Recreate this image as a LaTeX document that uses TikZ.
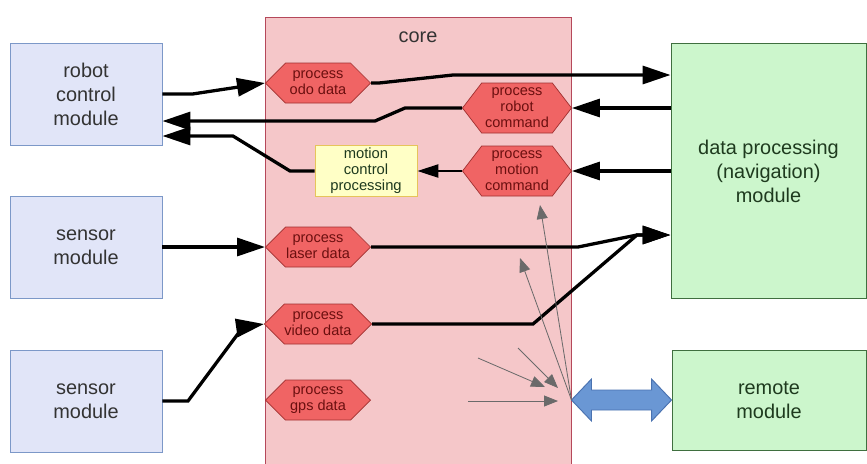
\documentclass[tikz,border=0pt]{standalone}
\usepackage{fontspec}
\setmainfont{Liberation Sans}
\usetikzlibrary{arrows.meta,shapes.symbols,calc}

\definecolor{corefill}{HTML}{F5C7C9}
\definecolor{coreline}{HTML}{B5485A}
\definecolor{hexfill}{HTML}{F06464}
\definecolor{hexline}{HTML}{A03030}
\definecolor{hextext}{HTML}{6B0F0F}
\definecolor{modfill}{HTML}{E1E5F8}
\definecolor{modline}{HTML}{7C98C8}
\definecolor{modtext}{HTML}{333333}
\definecolor{navfill}{HTML}{CCF6CC}
\definecolor{navline}{HTML}{3F6F3F}
\definecolor{navtext}{HTML}{1E3A1E}
\definecolor{ctrlfill}{HTML}{FFFFC6}
\definecolor{ctrlline}{HTML}{E6C45A}
\definecolor{linkfill}{HTML}{6A97D4}
\definecolor{linkline}{HTML}{4A72B0}
\definecolor{hintgray}{HTML}{6A6A6A}

\begin{document}
\begin{tikzpicture}[x=0.03cm,y=-0.03cm,
    module/.style={draw=modline,fill=modfill,line width=0.8pt,text=modtext,
      minimum width=4.56cm,minimum height=3.06cm,align=center,
      font=\fontsize{17}{20.5}\selectfont},
    navmod/.style={module,draw=navline,fill=navfill,text=navtext},
    hexa/.style={shape=signal,signal to=east and west,signal pointer angle=90,
      draw=hexline,fill=hexfill,text=hextext,line width=0.6pt,inner sep=0pt,
      minimum width=3.15cm,minimum height=1.2cm,align=center,
      font=\fontsize{12.4}{13.6}\selectfont},
    ctrl/.style={draw=ctrlline,fill=ctrlfill,text=navtext,line width=0.8pt,
      minimum width=3.06cm,minimum height=1.53cm,align=center,inner sep=1pt,
      font=\fontsize{12.6}{13.8}\selectfont},
    flow/.style={line width=2.8pt,-{Triangle[length=0.84cm,width=0.54cm]}},
    thinflow/.style={line width=1.2pt,-{Triangle[length=0.63cm,width=0.4cm]}},
    hint/.style={draw=hintgray,line width=0.7pt,-{Triangle[length=0.42cm,width=0.33cm]}}]
  \useasboundingbox (0,0) rectangle (867,463);

  % core area
  \node[draw=coreline,fill=corefill,line width=0.8pt,minimum width=9.18cm,
    minimum height=13.5cm,inner sep=0pt] (core) at (418,242) {};
  \node[font=\fontsize{17}{20}\selectfont,text=modtext] (corelbl) at (418,37) {core};

  % outside modules
  \node[module] (robot) at (86,94) {robot\\control\\module};
  \node[module] (sens1) at (86,247) {sensor\\module};
  \node[module] (sens2) at (86,401) {sensor\\module};
  \node[navmod,minimum width=5.85cm,minimum height=7.65cm] (dp) at (768.5,171)
    {data processing\\(navigation)\\module};
  \node[navmod,minimum width=5.82cm,minimum height=3cm] (remote) at (769,400)
    {remote\\module};

  % processing steps inside the core
  \node[hexa] (odo) at (318,83) {process\\odo data};
  \node[hexa,signal pointer angle=105,minimum width=3.27cm,minimum height=1.5cm]
    (rcmd) at (517,108) {process\\robot\\command};
  \node[hexa,signal pointer angle=105,minimum width=3.27cm,minimum height=1.5cm]
    (mcmd) at (517,171) {process\\motion\\command};
  \node[ctrl] (mcp) at (366,171) {motion\\control\\processing};
  \node[hexa] (laser) at (318,247) {process\\laser data};
  \node[hexa] (video) at (318,324) {process\\video data};
  \node[hexa] (gps) at (318,400) {process\\gps data};

  % data flow
  \draw[flow] (robot.east) -- ++(30,0) -- (odo.west);
  \draw[flow] (odo.east) -- ++(8,0) -- (453,75) -- (dp.west |- 0,75);
  \draw[flow] (dp.west |- rcmd.east) -- (rcmd.east);
  \draw[flow] (rcmd.west) -- (405,108) -- (375,121) -- (robot.east |- 0,121);
  \draw[flow] (dp.west) -- (mcmd.east);
  \draw[thinflow] (mcmd.west) -- (mcp.east);
  \draw[flow] (mcp.west) -- (290,171) -- (233,136) -- (robot.east |- 0,136);
  \draw[flow] (sens1.east) -- (laser.west);
  \draw[flow] (laser.east) -- (578,247) -- (637,235) -- (dp.west |- 0,235);
  \draw[flow] (video.east) -- (533,324) -- (637,235) -- (dp.west |- 0,235);
  \draw[flow] (sens2.east) -- (188,401) -- (243,327) -- (video.west);

  % link to the remote module
  \coordinate (hub) at (core.east |- remote.west);
  \draw[linkline,fill=linkfill,line width=0.8pt] (hub) -- ++(20,-21) -- ++(0,11)
    -- ($(remote.west)+(-20,-10)$) -- ++(0,-11) -- (remote.west)
    -- ++(-20,21) -- ++(0,-11) -- ($(hub)+(20,10)$) -- ++(0,11) -- cycle;

  % remote requests
  \coordinate (up1) at (540,205);
  \coordinate (up2) at (520,258);
  \coordinate (in1) at (478,358);
  \coordinate (in2) at (518,348);
  \coordinate (in3) at (468,401);
  \draw[hint] (hub) -- (up1);
  \draw[hint] (hub) -- (up2);
  \draw[hint] (in1) -- (545,387);
  \draw[hint] (in2) -- (558,388);
  \draw[hint] (in3) -- (558,401);
\end{tikzpicture}
\end{document}
